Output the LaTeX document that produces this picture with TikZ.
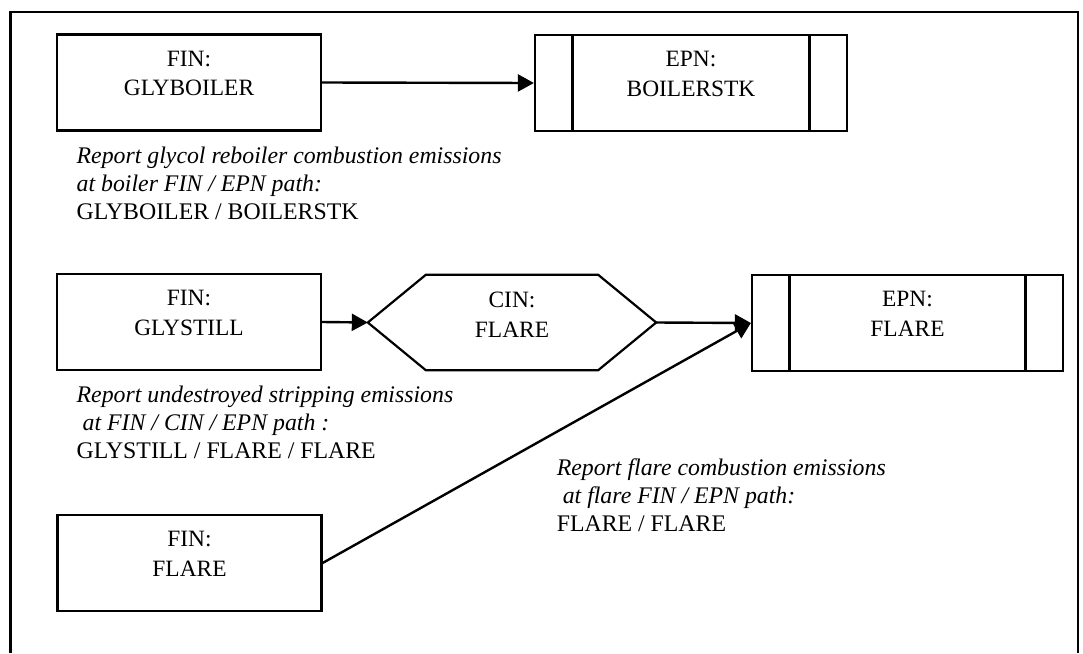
\documentclass[tikz,border=0pt]{standalone}
\usepackage{fontspec}
\setmainfont{Liberation Serif}
\usetikzlibrary{arrows.meta}

\tikzset{
  box/.style={draw, line width=2.2pt, minimum width=264pt, minimum height=96pt, inner sep=0pt},
  epnbox/.style={box, minimum width=311pt,
    path picture={
      \draw[line width=2.2pt]
        ([xshift=37.5pt]path picture bounding box.north west) -- ([xshift=37.5pt]path picture bounding box.south west)
        ([xshift=-37.5pt]path picture bounding box.north east) -- ([xshift=-37.5pt]path picture bounding box.south east);
    }},
  cinbox/.style={minimum width=288pt, minimum height=95pt, inner sep=0pt},
  boxtext/.style={anchor=north, align=center, inner sep=0pt,
    font=\fontsize{23.4}{29.3}\selectfont},
  note/.style={anchor=north west, align=left, inner sep=0pt,
    font=\fontsize{23.8}{28}\selectfont},
  flow/.style={line width=2.4pt, -{Triangle[length=16pt, width=17pt]}},
}

\begin{document}
\begin{tikzpicture}[x=1pt, y=-1pt]
  \useasboundingbox (0,0) rectangle (1083,653);

  % page frame, open at the bottom
  \draw[line width=2.2pt] (10.5,653) -- (10.5,12) -- (1078,12) -- (1078,653);

  % process blocks
  \node[box]    (fin1) at (189,82.5)  {};
  \node[epnbox, minimum width=312pt] (epn1) at (691,83) {};
  \node[box]    (fin2) at (189,322)   {};
  \node[cinbox] (cin)  at (512,322.5) {};
  \node[epnbox] (epn2) at (907.5,323) {};
  \node[box]    (fin3) at (189.5,563) {};

  % hexagonal control block
  \draw[line width=2.2pt] (cin.west) -- ([xshift=58pt]cin.north west) -- ([xshift=-58pt]cin.north east)
    -- (cin.east) -- ([xshift=-58pt]cin.south east) -- ([xshift=58pt]cin.south west) -- cycle;

  % block labels
  \node[boxtext] (fin1t) at ([yshift=-17.4pt]fin1.north) {FIN:\\GLYBOILER};
  \node[boxtext] (epn1t) at ([yshift=-17.4pt]epn1.north) {EPN:\\BOILERSTK};
  \node[boxtext] (fin2t) at ([yshift=-17.4pt]fin2.north) {FIN:\\GLYSTILL};
  \node[boxtext] (cint)  at ([yshift=-17.4pt]cin.north)  {CIN:\\FLARE};
  \node[boxtext] (epn2t) at ([yshift=-17.4pt]epn2.north) {EPN:\\FLARE};
  \node[boxtext] (fin3t) at ([yshift=-17.4pt]fin3.north) {FIN:\\FLARE};

  % connectors
  \draw[flow] (fin1.east) -- (epn1.west);
  \draw[flow] (fin2.east) -- (cin.west);
  \draw[flow] (cin.east) -- (epn2.west);
  \draw[flow] (fin3.east) -- (epn2.west);

  % reporting notes
  \node[note] (note1) at (76.5,147) {\textit{Report glycol reboiler combustion emissions}\\
    \textit{at boiler FIN / EPN path:}\\GLYBOILER / BOILERSTK};
  \node[note] (note2) at (76.5,386) {\textit{Report undestroyed stripping emissions}\\
    \hspace*{6pt}\textit{at FIN / CIN / EPN path :}\\GLYSTILL / FLARE / FLARE};
  \node[note] (note3) at (556.6,459) {\textit{Report flare combustion emissions}\\
    \hspace*{6pt}\textit{at flare FIN / EPN path:}\\FLARE / FLARE};
\end{tikzpicture}
\end{document}
